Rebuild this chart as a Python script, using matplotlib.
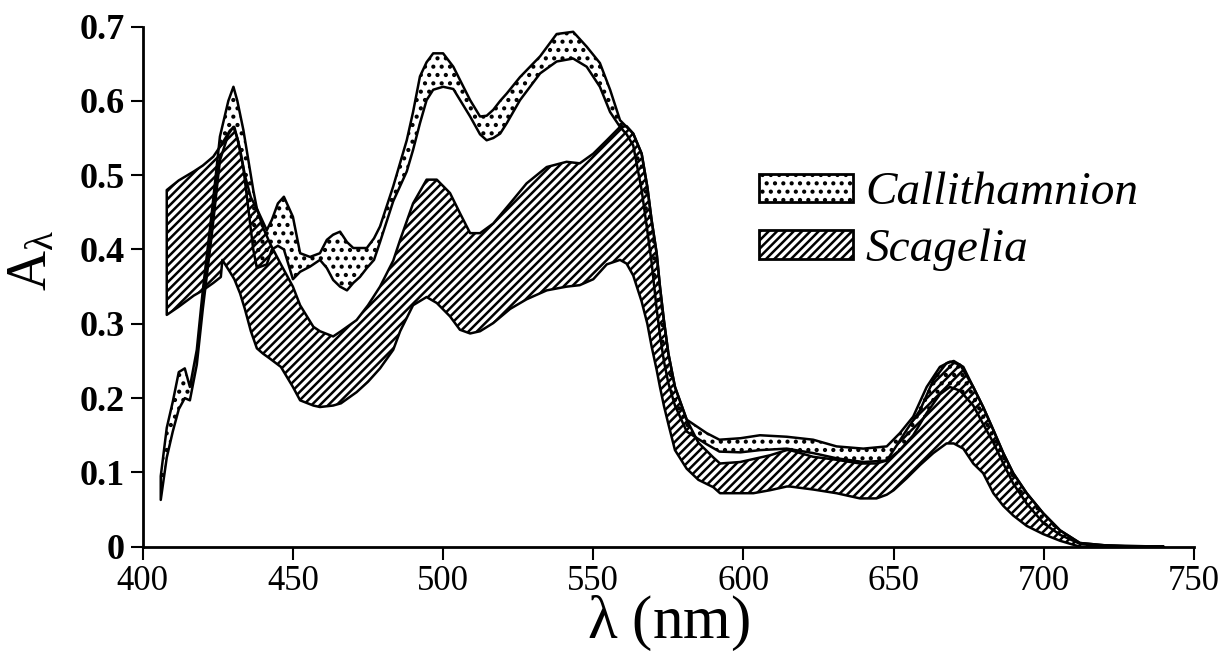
import matplotlib
matplotlib.use("Agg")
import matplotlib.pyplot as plt
from matplotlib.patches import Patch

plt.rcParams['font.family'] = ['Liberation Serif', 'DejaVu Serif']
plt.rcParams['mathtext.fontset'] = 'custom'
plt.rcParams['mathtext.rm'] = 'Liberation Serif'
plt.rcParams['mathtext.it'] = 'Liberation Serif:italic'
plt.rcParams['hatch.linewidth'] = 1.8

# Callithamnion band (dotted)
wl_calli = [406, 408, 410, 412, 414, 415.7, 418, 420, 423, 425.7, 428.5, 430.2, 431.5, 433.5,
            436.8, 438, 441.3, 443, 445, 447, 450, 452.4, 455.7, 459, 461.3, 463.4, 465.7, 468,
            470.1, 472.3, 474.6, 477, 479, 483.4, 487.9, 490, 492.3, 494.5, 496.7, 500, 503.4,
            509, 512.3, 514.5, 516.7, 519, 521.2, 525.6, 532.3, 537.8, 543.3, 547.8, 552.2,
            555.6, 558.9, 561.1, 563.3, 566.1, 568, 569.4, 571.1, 572.2, 573.5, 575, 577.2,
            581.1, 587.7, 592, 599, 605.5, 614.4, 623.2, 631, 639.9, 647.7, 652.1, 656.5, 661,
            665.4, 668.7, 672.1, 676.5, 679.8, 683.2, 686.5, 689.8, 694.3, 699.8, 705.4, 712,
            720, 730]
calli_hi = [0.095, 0.16, 0.195, 0.235, 0.24, 0.215, 0.265, 0.345, 0.45, 0.552, 0.60, 0.619, 0.60,
            0.561, 0.48, 0.455, 0.426, 0.44, 0.462, 0.471, 0.444, 0.395, 0.39, 0.395, 0.413, 0.42,
            0.424, 0.41, 0.402, 0.402, 0.402, 0.415, 0.431, 0.485, 0.547, 0.585, 0.633, 0.652,
            0.664, 0.664, 0.646, 0.601, 0.579, 0.58, 0.588, 0.60, 0.61, 0.632, 0.66, 0.69, 0.693,
            0.673, 0.651, 0.615, 0.574, 0.565, 0.556, 0.529, 0.484, 0.44, 0.395, 0.35, 0.305,
            0.26, 0.215, 0.171, 0.153, 0.144, 0.146, 0.150, 0.148, 0.144, 0.135, 0.132, 0.135,
            0.153, 0.175, 0.215, 0.242, 0.249, 0.245, 0.215, 0.188, 0.157, 0.126, 0.099, 0.072,
            0.045, 0.022, 0.005, 0.002, 0.0]
calli_lo = [0.063, 0.12, 0.155, 0.185, 0.20, 0.197, 0.245, 0.32, 0.42, 0.52, 0.555, 0.565, 0.55,
            0.51, 0.40, 0.375, 0.38, 0.40, 0.405, 0.40, 0.36, 0.37, 0.377, 0.386, 0.375, 0.359,
            0.35, 0.345, 0.355, 0.363, 0.375, 0.386, 0.41, 0.465, 0.505, 0.534, 0.57, 0.601,
            0.615, 0.619, 0.616, 0.579, 0.555, 0.547, 0.55, 0.556, 0.57, 0.601, 0.637, 0.653,
            0.657, 0.646, 0.619, 0.585, 0.565, 0.555, 0.54, 0.48, 0.425, 0.383, 0.32, 0.285,
            0.25, 0.22, 0.19, 0.155, 0.138, 0.128, 0.127, 0.130, 0.132, 0.126, 0.119, 0.114,
            0.116, 0.13, 0.15, 0.18, 0.205, 0.215, 0.21, 0.19, 0.165, 0.14, 0.112, 0.085, 0.058,
            0.032, 0.016, 0.004, 0.0, 0.0]

# Scagelia band (hatched)
wl_scag = [408, 412, 417, 420, 423.5, 426, 426.5, 429, 430.5, 432.4, 434, 436, 438, 440, 442.4,
           446, 450, 452.4, 456.8, 459, 463.4, 466, 471.2, 475, 479, 483.4, 485.7, 490, 494.5,
           497.9, 502.3, 505.6, 509, 512.3, 516.7, 522.3, 527.8, 534.5, 541.1, 545.5, 550,
           554.5, 558.9, 561.1, 563.3, 566.1, 568, 569.4, 571.1, 572.2, 573.5, 575, 577.2,
           581.1, 585, 590, 592.2, 598.9, 603.3, 608.8, 614.4, 615.5, 623.2, 631, 638.8, 644.3,
           647.7, 650, 654.3, 658.8, 663.2, 667.6, 670, 673.2, 676.5, 679.8, 683.2, 686.5,
           689.8, 694.3, 699.8, 705.4, 712, 720, 740]
scag_hi = [0.48, 0.493, 0.505, 0.513, 0.525, 0.54, 0.543, 0.56, 0.565, 0.535, 0.50, 0.47, 0.455,
           0.43, 0.408, 0.38, 0.35, 0.325, 0.296, 0.29, 0.283, 0.29, 0.305, 0.325, 0.35, 0.385,
           0.413, 0.462, 0.494, 0.494, 0.476, 0.449, 0.422, 0.422, 0.435, 0.462, 0.489, 0.511,
           0.518, 0.516, 0.529, 0.547, 0.565, 0.566, 0.556, 0.529, 0.484, 0.44, 0.395, 0.35,
           0.305, 0.26, 0.215, 0.171, 0.14, 0.12, 0.112, 0.114, 0.118, 0.123, 0.13, 0.13, 0.121,
           0.117, 0.112, 0.112, 0.116, 0.13, 0.157, 0.184, 0.224, 0.247, 0.25, 0.242, 0.215,
           0.188, 0.157, 0.126, 0.099, 0.072, 0.045, 0.022, 0.005, 0.002, 0.0]
scag_lo = [0.312, 0.323, 0.338, 0.345, 0.355, 0.363, 0.386, 0.37, 0.36, 0.341, 0.32, 0.29, 0.267,
           0.26, 0.253, 0.242, 0.215, 0.197, 0.19, 0.188, 0.19, 0.193, 0.208, 0.222, 0.24, 0.265,
           0.29, 0.325, 0.336, 0.328, 0.31, 0.292, 0.287, 0.29, 0.301, 0.32, 0.333, 0.345, 0.35,
           0.352, 0.36, 0.38, 0.386, 0.381, 0.365, 0.33, 0.30, 0.27, 0.238, 0.215, 0.19, 0.165,
           0.13, 0.105, 0.09, 0.08, 0.072, 0.072, 0.072, 0.076, 0.081, 0.081, 0.077, 0.072,
           0.065, 0.065, 0.07, 0.076, 0.092, 0.11, 0.126, 0.139, 0.139, 0.132, 0.112, 0.099,
           0.072, 0.055, 0.042, 0.028, 0.017, 0.008, 0.0, 0.0, 0.0]

x_ticks = [400, 450, 500, 550, 600, 650, 700, 750]
y_ticks = [0, 0.1, 0.2, 0.3, 0.4, 0.5, 0.6, 0.7]
y_tick_labels = ["0", "0.1", "0.2", "0.3", "0.4", "0.5", "0.6", "0.7"]

fig = plt.figure(figsize=(12.22, 6.63), dpi=100)
ax = fig.add_axes([0.1168, 0.1754, 0.8603, 0.7845])

ax.fill_between(wl_scag, scag_lo, scag_hi, facecolor='none', edgecolor='black',
                hatch='////', linewidth=1.8)
ax.fill_between(wl_calli, calli_lo, calli_hi, facecolor='none', edgecolor='black',
                hatch='..', linewidth=1.8)

ax.set_xlim(400, 750)
ax.set_ylim(0, 0.7)
ax.set_xticks(x_ticks)
ax.set_yticks(y_ticks)
ax.set_yticklabels(y_tick_labels, fontweight='bold')
ax.tick_params(direction='out', length=9, width=1.5, pad=4)
ax.tick_params(axis='x', labelsize=25)
ax.tick_params(axis='y', labelsize=26)

for side in ['top', 'right']:
    ax.spines[side].set_visible(False)
for side in ['left', 'bottom']:
    ax.spines[side].set_linewidth(2)

ax.set_xlabel(r"$\mathrm{\lambda}$ (nm)", fontsize=44)
ax.xaxis.set_label_coords(0.5, -0.09)
ax.set_ylabel(r"$\mathrm{A_{\lambda}}$", fontsize=40)
ax.yaxis.set_label_coords(-0.08, 0.55)

handles = [
    Patch(facecolor='white', edgecolor='black', hatch='..', linewidth=2, label='Callithamnion'),
    Patch(facecolor='white', edgecolor='black', hatch='////', linewidth=2, label='Scagelia'),
]
fig.legend(handles=handles, loc='upper left', bbox_to_anchor=(759 / 1222, 1 - 172 / 663),
           frameon=False, prop={'family': 'Liberation Serif', 'style': 'italic', 'size': 34},
           handlelength=2.0, handleheight=0.55, handletextpad=0.25, labelspacing=0.3,
           borderpad=0, borderaxespad=0)

fig.savefig("out.png", dpi=100)
